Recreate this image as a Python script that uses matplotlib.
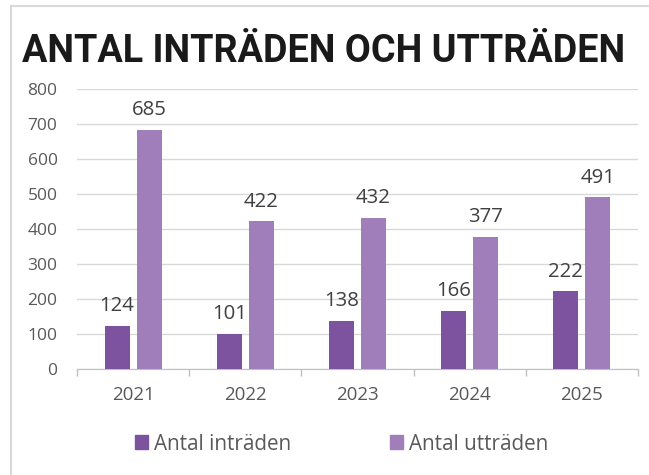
import matplotlib
matplotlib.use("Agg")
import matplotlib.pyplot as plt
from matplotlib.lines import Line2D
from matplotlib.patches import Patch
import numpy as np

# --- data ---
years = ["2021", "2022", "2023", "2024", "2025"]
intraden = [124, 101, 138, 166, 222]
uttraden = [685, 422, 432, 377, 491]
series_names = ["Antal inträden", "Antal utträden"]
yticks = [0, 100, 200, 300, 400, 500, 600, 700, 800]

c_dark = "#7D53A0"
c_light = "#A07EB9"
txt_gray = "#595959"

W, H = 649, 475
fig = plt.figure(figsize=(W / 100, H / 100), dpi=100)
plt.rcParams["font.family"] = ["Open Sans", "DejaVu Sans"]

# axes placed in pixel coords
left, right, top, bottom = 77, 638, 89.3, 369
ax = fig.add_axes([left / W, (H - bottom) / H, (right - left) / W, (bottom - top) / H])

x = np.arange(len(years))
bw = 0.223
off = 0.143
b1 = ax.bar(x - off, intraden, bw, color=c_dark, zorder=3)
b2 = ax.bar(x + off, uttraden, bw, color=c_light, zorder=3)

for bars in (b1, b2):
    for rect in bars:
        h = rect.get_height()
        ax.annotate(f"{int(h)}", (rect.get_x() + rect.get_width() / 2, h),
                    xytext=(0, 7), textcoords="offset points",
                    ha="center", va="bottom", fontsize=14.7, color="#404040")

ax.set_xlim(-0.5, len(years) - 0.5)
ax.set_ylim(0, 800)
ax.set_yticks(yticks)
ax.set_yticklabels([str(v) for v in yticks])
ax.grid(axis="y", color="#D9D9D9", linewidth=1, zorder=0)
ax.tick_params(axis="y", length=0, pad=14, labelsize=12.5, labelcolor=txt_gray)

# boundary ticks (major) and centred year labels (minor)
ax.set_xticks(np.arange(-0.5, len(years), 1))
ax.set_xticklabels([])
ax.set_xticks(x, minor=True)
ax.set_xticklabels(years, minor=True)
ax.tick_params(axis="x", which="major", length=5, color="#BFBFBF", width=1)
ax.tick_params(axis="x", which="minor", length=0, pad=12, labelsize=13.5, labelcolor=txt_gray)

for s in ["top", "right", "left"]:
    ax.spines[s].set_visible(False)
ax.spines["bottom"].set_color("#BFBFBF")

# title
fig.text(22 / W, (H - 62) / H, "ANTAL INTRÄDEN OCH UTTRÄDEN",
         fontsize=27.2, fontweight="bold", family="Roboto", color="#1A1A1A",
         ha="left", va="baseline")

# legend
handles = [Patch(color=c_dark), Patch(color=c_light)]
fig.legend(handles, series_names, loc="center", bbox_to_anchor=(341.5 / W, (H - 444) / H),
           ncol=2, frameon=False, fontsize=14.9, labelcolor=txt_gray,
           handlelength=0.63, handleheight=0.63, handletextpad=0.29, columnspacing=4.8)

# light frame around the chart
fig.add_artist(Line2D([11 / W, 1], [(H - 6) / H, (H - 6) / H], color="#D9D9D9", lw=1.5))
fig.add_artist(Line2D([11 / W, 11 / W], [0, (H - 6) / H], color="#D9D9D9", lw=1.5))

fig.savefig("out.png", dpi=100)
